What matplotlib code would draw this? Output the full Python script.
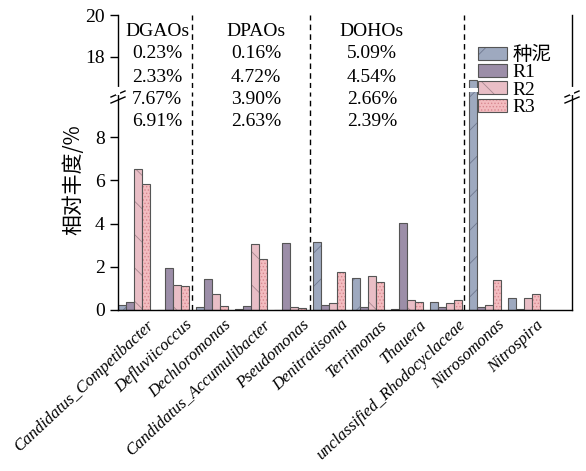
import matplotlib
matplotlib.use('Agg')
import matplotlib.pyplot as plt
from matplotlib.patches import Patch
from matplotlib import transforms
import numpy as np

plt.rcParams['font.family'] = ['Liberation Serif', 'Noto Sans CJK SC']
plt.rcParams['hatch.linewidth'] = 0.6

# relative abundance (%) of each genus
genera = ['Candidatus_Competibacter', 'Defluviicoccus', 'Dechloromonas',
          'Candidatus_Accumulibacter', 'Pseudomonas', 'Denitratisoma',
          'Terrimonas', 'Thauera', 'unclassified_Rhodocyclaceae',
          'Nitrosomonas', 'Nitrospira']
seed = [0.22, 0.01, 0.12, 0.04, 0.00, 3.17, 1.48, 0.03, 0.38, 16.9, 0.54]
r1 = [0.38, 1.95, 1.43, 0.20, 3.09, 0.24, 0.12, 4.05, 0.15, 0.14, 0.03]
r2 = [6.54, 1.14, 0.72, 3.06, 0.12, 0.32, 1.56, 0.46, 0.32, 0.23, 0.57]
r3 = [5.82, 1.09, 0.20, 2.36, 0.07, 1.74, 1.31, 0.35, 0.46, 1.40, 0.72]

series_names = ['种泥', 'R1', 'R2', 'R3']
series_colors = ['#9ea9bf', '#9c8ea8', '#e9bec6', '#f3bcc0']
hatch_colors = ['#6f7890', '#9c8ea8', '#a88890', '#d88890']
hatches = ['/', '', '\\', '.....']

# functional group totals
group_names = ['DGAOs', 'DPAOs', 'DOHOs']
group_totals = [['0.23%', '2.33%', '7.67%', '6.91%'],
                ['0.16%', '4.72%', '3.90%', '2.63%'],
                ['5.09%', '4.54%', '2.66%', '2.39%']]
group_x = [0.59, 3.13, 6.1]
separators = [1.5, 4.5, 8.45]

W, H = 586, 471
fig = plt.figure(figsize=(W / 100, H / 100), dpi=100)

left, right = 118 / W, 572 / W
ax = fig.add_axes([left, (H - 310) / H, right - left, 218 / H])
ax_top = fig.add_axes([left, (H - 88) / H, right - left, 73 / H])

x = np.arange(len(genera))
w = 0.205
edge = '#555555'
data = [seed, r1, r2, r3]

for a in (ax, ax_top):
    for k, vals in enumerate(data):
        pos = x + (k - 1.5) * w
        a.bar(pos, vals, w, color=series_colors[k], edgecolor=hatch_colors[k],
              hatch=hatches[k], linewidth=0)
        a.bar(pos, vals, w, fill=False, edgecolor=edge, linewidth=0.8)
    for s in separators:
        a.axvline(s, color='black', linestyle=(0, (4, 3)), linewidth=1)
    a.set_xlim(-0.41, 11.23)
    a.spines['top'].set_visible(False)
    a.tick_params(axis='y', labelsize=14, length=6, width=1, direction='out')
    for sp in a.spines.values():
        sp.set_linewidth(1)

ax.set_ylim(0, 10.1)
ax.set_yticks([0, 2, 4, 6, 8])
ax_top.set_ylim(16.5, 20)
ax_top.set_yticks([18, 20])
ax_top.spines['bottom'].set_visible(False)
ax_top.set_xticks([])

ax.set_xticks(x + 0.3)
ax.set_xticklabels(genera, rotation=43, ha='right', rotation_mode='anchor',
                   fontstyle='italic', fontsize=12)
ax.tick_params(axis='x', length=0, pad=5)

# axis break marks
for xf in (left, right):
    for dy in (0.0, 6.0):
        y0 = (H - 100 + dy) / H
        fig.add_artist(plt.Line2D([xf - 7 / W, xf + 7 / W],
                                  [y0 - 3 / H, y0 + 3 / H],
                                  color='black', linewidth=1))
    fig.add_artist(plt.Line2D([xf, xf], [(H - 93) / H, (H - 89) / H],
                              color='white', linewidth=3))

fig.text(73 / W, 1 - 180 / H, '相对丰度/%', rotation=90, ha='center',
         va='center', fontsize=15, family=['Noto Sans CJK SC'])

# group totals above the bars
trans = transforms.blended_transform_factory(ax.transData, fig.transFigure)
rows_y = [31, 54, 77, 99, 121]
for gx, name, totals in zip(group_x, group_names, group_totals):
    for ry, t in zip(rows_y, [name] + totals):
        fig.text(gx, 1 - ry / H, t, transform=trans, ha='center',
                 va='center', fontsize=14)

handles = []
for k in range(4):
    handles.append((Patch(facecolor=series_colors[k], edgecolor=hatch_colors[k],
                          hatch=hatches[k], linewidth=0),
                    Patch(fill=False, edgecolor=edge, linewidth=0.8)))
leg = fig.legend(handles, series_names, loc='upper left',
                 bbox_to_anchor=(474 / W, 1 - 42 / H), frameon=False,
                 fontsize=14, handlelength=1.5, handleheight=0.65,
                 labelspacing=0.0, handletextpad=0.3, borderaxespad=0,
                 borderpad=0.2)

fig.savefig('out.png', dpi=100)
